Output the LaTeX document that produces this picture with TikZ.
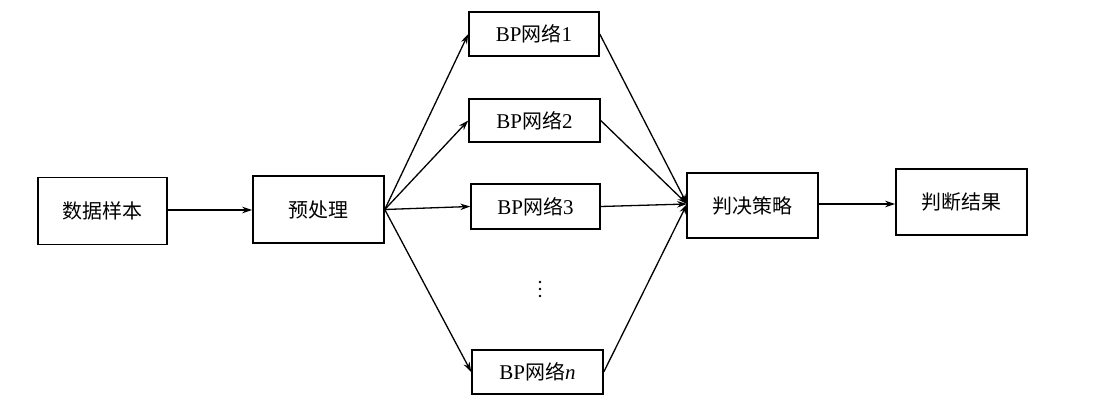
\documentclass[tikz,border=0pt]{standalone}
\usepackage{fontspec}
\setmainfont{Liberation Serif}
\newfontfamily\cjk{Noto Sans CJK SC}[Scale=0.95]
\usetikzlibrary{arrows.meta}
\begin{document}
\begin{tikzpicture}[x=1pt,y=-1pt,
  box/.style={draw,line width=1.5pt,inner sep=0pt,font=\fontsize{21}{21}\selectfont},
  arr/.style={line width=1.3pt,-{Stealth[length=10pt,width=6.5pt]}},
  dot/.style={fill,circle,inner sep=0pt,minimum size=2.6pt}]
\useasboundingbox (0,0) rectangle (1109,420);
\node[box,minimum width=129pt,minimum height=67pt] (data) at (102.5,211) {\cjk 数据样本};
\node[box,minimum width=131pt,minimum height=67pt] (pre) at (318.5,209.5) {\cjk 预处理};
\node[box,minimum width=130pt,minimum height=44pt] (bp1) at (534,34) {BP{\cjk 网络}1};
\node[box,minimum width=131pt,minimum height=43pt] (bp2) at (534.5,120.5) {BP{\cjk 网络}2};
\node[box,minimum width=129pt,minimum height=45pt] (bp3) at (535.5,206.5) {BP{\cjk 网络}3};
\node[box,minimum width=131pt,minimum height=44pt] (bpn) at (537.5,372) {BP{\cjk 网络}\textit{n}};
\node[box,minimum width=131pt,minimum height=65pt] (jc) at (752.5,205.5) {\cjk 判决策略};
\node[box,minimum width=131pt,minimum height=66pt] (jg) at (961.5,202) {\cjk 判断结果};
\node[dot] (d1) at (540,282) {};
\node[dot] (d2) at (540,289) {};
\node[dot] (d3) at (540,296) {};
\coordinate (jin) at (687,204);
\draw[arr] (data.east |- 0,210) -- (pre.west |- 0,210);
\draw[arr] (pre.east) -- (bp1.west);
\draw[arr] (pre.east) -- (bp2.west);
\draw[arr] (pre.east) -- (bp3.west);
\draw[arr] (pre.east) -- (bpn.west);
\draw[arr] (bp1.east) -- (jin);
\draw[arr] (bp2.east) -- (jin);
\draw[arr] (bp3.east) -- (jin);
\draw[arr] (bpn.east) -- (jin);
\draw[arr] (jc.east |- 0,204) -- (jg.west |- 0,204);
\end{tikzpicture}
\end{document}
